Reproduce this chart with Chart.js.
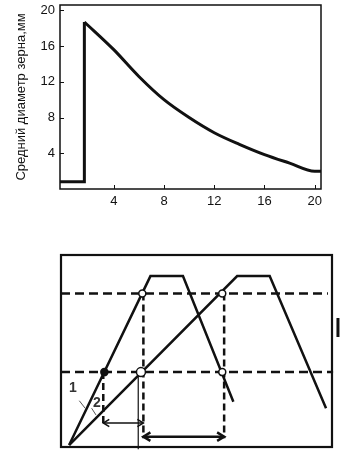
<!DOCTYPE html>
<html>
<head>
<meta charset="utf-8">
<script src="https://cdn.jsdelivr.net/npm/chart.js@4.4.1/dist/chart.umd.min.js"></script>
<style>
	html, body { margin: 0; padding: 0; background: #fff; }
	#wrap { position: relative; width: 348px; height: 462px; overflow: hidden; }
	#grain { position: absolute; left: 0; top: 0; }
	#scheme { position: absolute; left: 0; top: 225px; }
</style>
</head>
<body>
<div id="wrap">
	<canvas id="grain" width="348" height="225"></canvas>
	<canvas id="scheme" width="348" height="237"></canvas>
</div>
<script>
// Upper chart: grain size vs. distance
var xTicks = [ 4, 8, 12, 16, 20 ];
var yTicks = [ 4, 8, 12, 16, 20 ];
var stepX = [ -0.28, 1.66, 1.66 ];
var stepY = [ 0.8, 0.8, 18.7 ];
var curveX = [ 1.66, 4, 6, 8, 10, 12, 14, 16, 18, 20, 20.5 ];
var curveY = [ 18.7, 15.6, 12.6, 10.0, 8.0, 6.3, 5.0, 3.85, 2.9, 2.0, 2.0 ];
var yTitle = 'Средний диаметр зерна,мм';

// Lower chart: schematic (arbitrary units 0..100)
var curve1X = [ 3, 33, 45, 63.6 ];
var curve1Y = [ 1, 89, 89, 23.6 ];
var curve2X = [ 3, 65, 77, 97.8 ];
var curve2Y = [ 1, 89, 89, 20.2 ];
var levelUp = 80;
var levelLow = 39;
var levelUpEnd = 98.5;
var levelLowEnd = 100.4;
var dropX = [ 15.6, 30.4, 60.2 ];
var dropTop = [ 39, 80, 80 ];
var dropBottom = [ 11, 4.5, 4.5 ];
var markerX = [ 16, 30, 59.5, 29.5, 59.5 ];
var markerY = [ 39, 80, 80, 39, 39 ];
var markerFilled = [ true, false, false, false, false ];
var markerSize = [ 3.5, 3.5, 3.5, 4.5, 3.5 ];
var thinX = 28.5;
var thinY = [ 39, -1.2 ];
var arrowSmall = { x: [ 15.6, 30.4 ], y: 12.5 };
var arrowBig = { x: [ 30.4, 60.2 ], y: 5.4 };
var leader1X = [ 6.75, 8.9 ];
var leader1Y = [ 24.1, 20.2 ];
var leader2X = [ 11.3, 12.9 ];
var leader2Y = [ 20.2, 16.7 ];
var labelText = [ '1', '2' ];
var labelX = [ 4.4, 13.2 ];
var labelY = [ 30.5, 22.8 ];
var sideMarkX = 102.2;
var sideMarkY = [ 67.2, 57.3 ];

( function() {
	'use strict';

	var INK = '#111';
	var FONT = 'Liberation Sans, Arial, sans-serif';

	function pts( xs, ys ) {
		var out = [];
		for ( var i = 0; i < xs.length; i++ ) {
			out.push( { x: xs[ i ], y: ys[ i ] } );
		}
		return out;
	}

	function seg( data, width, dash, color ) {
		return {
			data: data,
			borderColor: color || INK,
			borderWidth: width,
			borderDash: dash || [],
			pointRadius: 0,
			tension: 0,
			fill: false,
			clip: false,
			borderCapStyle: 'butt'
		};
	}

	/**
	 * Box round the plot area with ticks pointing inward.
	 */
	var framePlugin = {
		id: 'frame',
		afterDraw: function( chart, args, opts ) {
			var ctx = chart.ctx;
			var a = chart.chartArea;
			ctx.save();
			ctx.strokeStyle = INK;
			ctx.lineWidth = opts.width || 1.5;
			ctx.strokeRect( a.left, a.top, a.right - a.left, a.bottom - a.top );
			if ( opts.ticks ) {
				var xs = chart.scales.x;
				var ys = chart.scales.y;
				ctx.lineWidth = 1;
				ctx.beginPath();
				xTicks.forEach( function( v ) {
					var px = Math.round( xs.getPixelForValue( v ) ) + 0.5;
					ctx.moveTo( px, a.bottom );
					ctx.lineTo( px, a.bottom - 4 );
				} );
				yTicks.forEach( function( v ) {
					var py = Math.round( ys.getPixelForValue( v ) ) + 0.5;
					ctx.moveTo( a.left, py );
					ctx.lineTo( a.left + 4, py );
				} );
				ctx.stroke();
			}
			ctx.restore();
		}
	};

	new Chart( document.getElementById( 'grain' ), {
		type: 'line',
		data: {
			datasets: [
				seg( pts( stepX, stepY ), 3 ),
				Object.assign( seg( pts( curveX, curveY ), 3 ), { cubicInterpolationMode: 'monotone' } )
			]
		},
		plugins: [ framePlugin ],
		options: {
			responsive: false,
			animation: false,
			layout: { padding: { top: 5, right: 27, left: 0, bottom: 0 } },
			plugins: {
				legend: { display: false },
				tooltip: { enabled: false },
				frame: { width: 1.5, ticks: true }
			},
			scales: {
				x: {
					type: 'linear',
					min: -0.28,
					max: 20.5,
					grid: { display: false, drawTicks: false },
					border: { display: false },
					afterBuildTicks: function( scale ) {
						scale.ticks = xTicks.map( function( v ) { return { value: v }; } );
					},
					afterFit: function( scale ) {
						scale.height = 36;
						scale.paddingLeft = 0;
						scale.paddingRight = 0;
					},
					ticks: {
						color: INK,
						padding: 5,
						maxRotation: 0,
						autoSkip: false,
						font: { family: FONT, size: 13 }
					}
				},
				y: {
					type: 'linear',
					min: 0,
					max: 20.6,
					grid: { display: false, drawTicks: false },
					border: { display: false },
					afterBuildTicks: function( scale ) {
						scale.ticks = yTicks.map( function( v ) { return { value: v }; } );
					},
					afterFit: function( scale ) {
						scale.width = 60;
						scale.paddingTop = 0;
						scale.paddingBottom = 0;
					},
					ticks: {
						color: INK,
						padding: 5,
						autoSkip: false,
						font: { family: FONT, size: 13 }
					},
					title: {
						display: true,
						text: yTitle,
						color: INK,
						padding: { top: 14, bottom: 0 },
						font: { family: FONT, size: 13 }
					}
				}
			}
		}
	} );

	/**
	 * Markers, arrowheads and number labels for the schematic.
	 */
	var schemePlugin = {
		id: 'schemeExtras',
		afterDatasetsDraw: function( chart ) {
			var ctx = chart.ctx;
			var xs = chart.scales.x;
			var ys = chart.scales.y;

			function arrowHead( x, y, dir, size ) {
				ctx.beginPath();
				ctx.moveTo( x + dir * size, y - size * 0.6 );
				ctx.lineTo( x, y );
				ctx.lineTo( x + dir * size, y + size * 0.6 );
				ctx.stroke();
			}

			ctx.save();
			ctx.strokeStyle = INK;
			ctx.lineCap = 'butt';

			[ [ arrowSmall, 1.5, 6 ], [ arrowBig, 2.5, 7 ] ].forEach( function( item ) {
				var ar = item[ 0 ];
				var py = ys.getPixelForValue( ar.y );
				ctx.lineWidth = item[ 1 ];
				arrowHead( xs.getPixelForValue( ar.x[ 0 ] ), py, 1, item[ 2 ] );
				arrowHead( xs.getPixelForValue( ar.x[ 1 ] ), py, -1, item[ 2 ] );
			} );

			ctx.lineWidth = 1.5;
			for ( var i = 0; i < markerX.length; i++ ) {
				ctx.beginPath();
				ctx.arc( xs.getPixelForValue( markerX[ i ] ), ys.getPixelForValue( markerY[ i ] ), markerSize[ i ], 0, Math.PI * 2 );
				ctx.fillStyle = markerFilled[ i ] ? INK : '#fff';
				ctx.fill();
				ctx.stroke();
			}

			ctx.fillStyle = '#333';
			ctx.font = 'bold 14px ' + FONT;
			ctx.textAlign = 'center';
			ctx.textBaseline = 'middle';
			labelText.forEach( function( t, j ) {
				ctx.fillText( t, xs.getPixelForValue( labelX[ j ] ), ys.getPixelForValue( labelY[ j ] ) );
			} );
			ctx.restore();
		}
	};

	var schemeSets = [
		seg( pts( curve1X, curve1Y ), 2.5 ),
		seg( pts( curve2X, curve2Y ), 2.5 ),
		seg( pts( [ 0, levelUpEnd ], [ levelUp, levelUp ] ), 2.5, [ 9, 5 ] ),
		seg( pts( [ 0, levelLowEnd ], [ levelLow, levelLow ] ), 2.5, [ 9, 5 ] ),
		seg( pts( [ thinX, thinX ], thinY ), 1.2 ),
		seg( pts( arrowSmall.x, [ arrowSmall.y, arrowSmall.y ] ), 1.5 ),
		seg( pts( arrowBig.x, [ arrowBig.y, arrowBig.y ] ), 2.5 ),
		seg( pts( leader1X, leader1Y ), 1, [], '#555' ),
		seg( pts( leader2X, leader2Y ), 1, [], '#555' ),
		seg( pts( [ sideMarkX, sideMarkX ], sideMarkY ), 3 )
	];
	dropX.forEach( function( x, k ) {
		schemeSets.push( seg( pts( [ x, x ], [ dropTop[ k ], dropBottom[ k ] ] ), 2.5, [ 7, 4 ] ) );
	} );

	new Chart( document.getElementById( 'scheme' ), {
		type: 'line',
		data: { datasets: schemeSets },
		plugins: [ framePlugin, schemePlugin ],
		options: {
			responsive: false,
			animation: false,
			layout: { padding: { top: 30, right: 16, left: 61, bottom: 15 } },
			plugins: {
				legend: { display: false },
				tooltip: { enabled: false },
				frame: { width: 2.2, ticks: false }
			},
			scales: {
				x: { type: 'linear', min: 0, max: 100, display: false },
				y: { type: 'linear', min: 0, max: 100, display: false }
			}
		}
	} );
} )();
</script>
</body>
</html>
